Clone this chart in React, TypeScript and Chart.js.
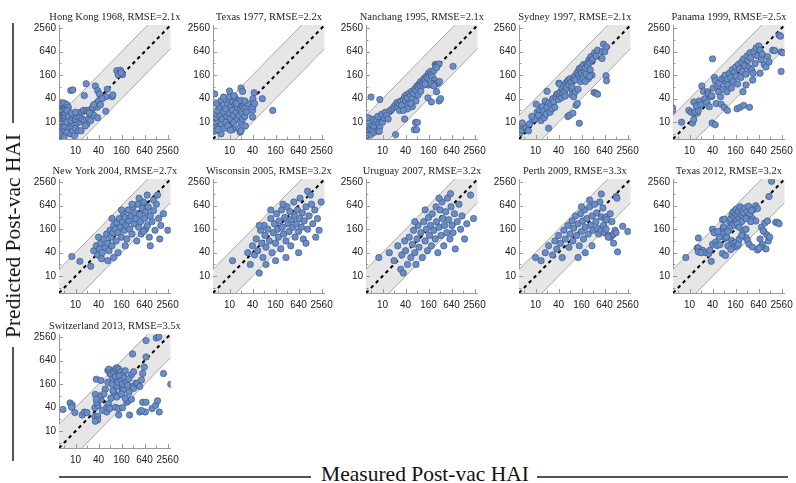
import React, { useEffect, useRef } from 'react';
import { Chart, registerables } from 'chart.js';

Chart.register(...registerables);

const panelNames = [
  'Hong Kong 1968', 'Texas 1977', 'Nanchang 1995', 'Sydney 1997', 'Panama 1999',
  'New York 2004', 'Wisconsin 2005', 'Uruguay 2007', 'Perth 2009', 'Texas 2012',
  'Switzerland 2013',
];
const rmseValues = ['2.1', '2.2', '2.1', '2.1', '2.5', '2.7', '3.2', '3.2', '3.3', '3.2', '3.5'];

const majorTicks = [10, 40, 160, 640, 2560];
const minorTicks = [5, 20, 80, 320, 1280];
const axisMin = 3.7;
const axisMax = 3100;
const bandFactor = 4;

type P = [number, number];

const hongKong1968: P[] = [
  [4.2,4.5],[4.6,5],[5,4.2],[4.2,6],[4.4,7],[5,6.5],[4.3,8],[4.7,9],[5.2,8],[4.2,10],[4.5,11],[5,10.5],[4.3,12.5],[4.8,13],[5.4,12],
  [4.2,15],[4.6,16],[5.1,15],[4.3,18],[4.7,19],[5.3,18],[4.2,21],[4.6,23],[5.2,22],[4.2,26],[4.6,27],[5.5,25],[4.3,30],[5,31],[6,28],
  [6.5,24],[6,20],[6.5,14],[6,10],[6.8,7],[6,5.5],
  [7.5,5],[8.5,6],[9.5,4.5],[8,8],[9,9],[10,7],[11,9.5],[13,10],[12,6],[7.5,11],[8.5,13],[10,12],[9,15],[11,14],[12,17],[14,18],
  [16,20],[8,17],[10,18],[13,13],[15,12],[17,11],[20,9],[22,12],[19,20],[21,19],[23,20],[25,11],[28,22],[30,15],[23,17],[18,8],[14,6],
  [7.5,65],[8.5,67],[19,97],[17,48],[33,85],[38,64],[42,53],[68,70],[62,45],[91,45],[36,31],[40,35],[37,24],[62,19],[38,13],
  [120,210],[150,215],[170,165],[130,165],[155,185],[28,24],[50,40],[45,28],[95,50],[30,28],
];

const texas1977: P[] = [
  [4.2,6],[4.6,8],[4.2,10],[5,11],[4.3,13],[5.5,15],[4.2,17],[4.8,20],[6,9],[6.5,12],[5.5,25],[4.6,30],[6,36],[7,28],[7,18],
  [7.5,7],[8,10],[8.5,14],[8,22],[9,30],[9.5,38],[10,45],[10,17],[10.5,12],[11,8],[11,25],[12,33],[12,20],[13,15],[13,10],
  [14,28],[14,42],[15,18],[16,12],[16,24],[17,7],[17,35],[18,15],[18,28],[19,20],[20,10],[21,18],[22,26],[22,12],[23,31],
  [24,22],[25,14],[26,8],[27,25],[28,18],[30,30],[12,6.5],[9,8],[6,5],[5,6.5],[15,30],[20,36],[25,35],[7,44],[13,48],
  [4.1,53],[10,63],[20,75],[22,61],[44,57],[41,40],[72,40],[135,20],[40,20],[40,13.5],[41,25],[45,30],[10.6,6.2],[19,5.5],[20,6],
];

const nanchang1995: P[] = [
  [4,4.5],[4.3,5.5],[5,4.8],[4.1,6.5],[4.6,7],[5.5,6.2],[4.2,8.5],[5,9],[6,8],[6.5,10],[4.6,11],[5.5,12],[7,11.5],[4.2,13],
  [6,5.5],[7.5,6],[8,9],[8.5,7.5],[9,12],[7.5,14],[10,10],[11,13],[9.5,16],[12,18],[13,15],[14,12],[16,20],[8.2,5.8],
  [18,22],[20,25],[22,28],[25,24],[24,32],[27,30],[30,35],[28,20],[32,27],[35,38],[38,45],[40,36],[42,50],[45,42],[48,30],
  [50,55],[55,48],[60,40],[58,62],[65,55],[70,72],[75,65],[80,85],[85,78],[90,95],[95,88],[100,110],[110,100],[120,130],
  [115,88],[130,120],[140,150],[150,140],[160,180],[170,160],[180,200],[190,170],[200,150],[220,210],[240,300],[250,280],
  [280,300],[300,310],[260,250],[230,120],[200,100],[160,90],[130,95],[250,95],[280,100],[310,110],[190,95],[220,85],
  [260,60],[75,35],[60,25],[45,22],[55,30],[85,50],[100,62],
  [5,44],[8.5,38],[22,4.8],[38,12],[73,9.8],[82,9.8],[68,6.4],[78,6.4],[154,42],[190,33],[300,35],[330,40],[700,270],[35,20],
];

const sydney1997: P[] = [
  [4,5.4],[4.4,6.3],[5.6,7],[5,7.8],[4.1,8.5],[4.5,9.5],[6.5,6],[7,9],[8.5,11.5],[9.6,12],[8,14],[10.4,29],[11,18],[12,15],
  [13,21],[14,11],[15,25],[16,19],[18,35],[22,31],[20,24],[20,62],[22,7],[17,13],[19,16],[24,18],[25,28],[27,22],[28,40],
  [30,33],[32,24],[34,45],[36,52],[38,53],[41,100],[43,94],[43,48],[40,38],[45,60],[48,42],[50,70],[52,55],[55,85],[58,62],
  [60,47],[62,100],[65,75],[70,14],[78,15],[68,110],[72,120],[75,90],[80,130],[85,105],[88,70],[90,50],[95,17],[100,130],
  [105,150],[110,120],[115,27],[125,30],[120,180],[130,200],[135,160],[140,9.4],[140,240],[145,140],[150,110],[155,220],
  [160,180],[165,260],[170,150],[175,130],[180,300],[190,200],[200,240],[210,170],[220,320],[230,280],[240,130],[250,400],
  [260,340],[270,220],[280,480],[300,380],[320,420],[340,58],[380,55],[420,52],[300,160],[350,600],[380,500],[420,700],
  [550,640],[650,640],[550,430],[600,1000],[720,850],[700,155],[720,115],[100,45],[110,60],[90,80],[130,70],[200,110],[260,150],
];

const panama1999: P[] = [
  [3.6,20],[3.6,23],[6.2,10],[9.6,20],[11,18],[13,17],[16,17],[12,9.5],[13,11.8],[13,33],[14,18.5],[17,20],[18,35],[15,26],
  [20,28],[21,85],[23,62],[25,40],[28,32],[30,60],[31,53],[33,25],[36,45],[38,48],[39,9.5],[47,8.6],[40,420],[42,75],
  [45,140],[47,115],[50,30],[55,85],[58,60],[60,100],[65,45],[67,29],[70,130],[75,70],[81,140],[81,24],[85,160],[89,105],
  [95,60],[98,125],[98,20],[100,90],[110,180],[120,140],[125,75],[130,220],[140,110],[150,190],[160,260],[165,150],[175,22],
  [180,95],[190,300],[200,230],[210,24],[220,140],[230,350],[240,200],[260,27],[260,420],[280,280],[300,170],[320,500],
  [340,380],[360,250],[370,24],[380,600],[400,450],[420,220],[460,180],[480,650],[520,320],[550,800],[600,500],[650,900],
  [700,700],[750,400],[800,550],[900,300],[1000,260],[1100,480],[1500,700],[1700,680],[2200,1700],[2400,1600],[2500,630],
  [2800,600],[2500,200],[1200,350],[300,90],[450,120],[700,180],[250,60],
];

const newYork2004: P[] = [
  [8,32],[13,24],[25,18],[30,45],[35,60],[38,35],[40,100],[42,50],[45,70],[48,28],[50,40],[55,90],[60,55],[65,120],[70,70],
  [75,45],[80,150],[85,100],[90,60],[95,130],[100,200],[110,160],[115,80],[120,240],[130,130],[140,300],[150,180],[160,100],
  [170,250],[180,400],[190,150],[200,320],[210,200],[220,90],[240,500],[250,260],[260,160],[280,350],[300,120],[320,600],
  [340,220],[360,420],[380,300],[400,80],[420,700],[450,180],[480,380],[500,250],[520,120],[560,550],[600,800],[640,300],
  [680,160],[700,450],[760,200],[800,600],[850,100],[900,350],[1000,250],[1100,480],[1200,150],[1300,700],[1500,300],
  [1700,200],[2000,400],[2600,150],[1600,90],[900,60],[1100,900],[1400,1200],[130,40],[200,60],[70,25],[100,30],[600,140],
  [460,1000],[750,1200],[300,700],[160,500],[90,300],
];

const wisconsin2005: P[] = [
  [12,25],[30,40],[35,20],[40,60],[45,35],[50,90],[55,45],[60,12],[65,150],[70,70],[75,30],[80,200],[85,110],[90,55],
  [100,160],[110,80],[120,300],[130,40],[140,130],[150,220],[160,70],[170,400],[180,160],[190,100],[200,260],[220,50],
  [230,500],[240,180],[260,120],[280,320],[300,80],[320,600],[340,220],[360,140],[380,450],[400,60],[420,280],[450,180],
  [480,800],[500,350],[520,100],[560,220],[600,500],[640,140],[680,300],[700,1000],[760,180],[800,420],[850,90],[900,260],
  [1000,600],[1100,160],[1200,350],[1300,1200],[1500,220],[1700,500],[2000,300],[2200,150],[2500,800],[1800,100],[1000,70],
  [640,40],[300,30],[160,25],[90,20],[1400,700],[1100,1500],[250,700],[120,500],[60,200],
];

const uruguay2007: P[] = [
  [8,30],[15,40],[20,25],[25,60],[30,15],[32,35],[35,12],[38,80],[40,45],[45,20],[50,100],[55,30],[60,65],[65,150],[70,40],
  [75,20],[80,90],[85,200],[90,55],[100,130],[110,30],[120,250],[130,80],[140,160],[150,45],[160,320],[170,110],[180,200],
  [190,60],[200,400],[220,150],[240,90],[250,600],[260,250],[280,40],[300,180],[320,500],[340,110],[360,800],[380,300],
  [400,60],[420,200],[450,450],[480,130],[500,1000],[540,280],[580,90],[620,600],[660,200],[700,130],[760,400],[800,50],
  [900,250],[1000,700],[1100,160],[1200,350],[1400,90],[1600,220],[2000,1200],[2400,300],[130,500],[70,250],[600,1300],[300,1000],
];

const perth2009: P[] = [
  [10,30],[14,25],[18,40],[22,60],[28,35],[32,80],[36,50],[40,110],[45,70],[50,30],[55,150],[60,90],[70,200],[75,55],
  [80,120],[90,260],[95,80],[100,170],[110,350],[120,110],[130,220],[140,60],[150,400],[160,140],[170,260],[180,90],
  [190,500],[200,180],[220,300],[240,120],[260,600],[280,200],[300,350],[320,150],[350,700],[380,250],[400,420],[420,170],
  [450,120],[480,800],[525,1280],[580,560],[525,330],[640,300],[700,330],[740,280],[525,150],[640,130],[800,110],[900,100],
  [1000,110],[1100,120],[800,100],[1200,150],[1280,130],[1100,70],[1400,42],[2600,140],[1900,190],[1280,1100],[1350,1000],
  [600,200],[700,160],[300,60],[200,40],[130,30],[900,400],[1000,250],[260,900],[160,600],
];

const texas2012: P[] = [
  [8,30],[17,95],[16,53],[17,53],[22,46],[26,40],[32,38],[34,46],[37,24],[40,160],[44,130],[40,66],[48,74],[52,61],[62,64],
  [73,130],[75,170],[78,185],[73,280],[82,290],[73,38],[87,94],[92,100],[112,250],[127,225],[134,210],[127,82],[134,68],
  [150,56],[160,72],[175,59],[190,66],[300,98],[330,82],[360,66],[440,56],[600,47],[1000,50],[1150,80],[880,140],[1050,115],
  [1250,100],[760,180],[850,145],[930,230],[1100,260],[700,90],[800,65],[720,56],[660,52],[1800,240],[2000,240],[2200,220],
  [1400,2700],[1200,1100],[540,640],[600,540],[450,500],[360,330],[440,300],[540,260],[250,140],[300,160],[17,42],[20,40],[87,34],
  [120,300],[130,380],[140,450],[150,320],[160,400],[165,520],[170,260],[180,350],[190,450],[200,300],[210,600],[220,380],
  [230,250],[240,480],[250,350],[260,420],[280,560],[300,300],[320,450],[350,620],[380,400],[400,250],[420,480],[150,200],
  [180,220],[200,180],[110,170],[100,140],[60,100],[55,140],[100,60],[120,48],[200,90],[230,110],
];

const switzerland2013: P[] = [
  [4.7,36],[7.2,53],[8.2,47],[7.9,41],[9.6,30],[15,26],[17,31],[20,30],[32,40],[38,46],[36,55],[46,66],[43,80],[33,88],
  [35,66],[35,215],[46,200],[32,24],[38,24],[38,19.5],[33,18],[50,34],[66,31],[66,41],[73,50],[79,38],[70,360],[75,390],
  [80,300],[85,280],[100,335],[110,390],[120,425],[135,390],[150,330],[180,300],[200,355],[150,140],[165,120],[180,115],
  [100,100],[120,140],[135,85],[135,26],[260,26],[110,41],[135,38],[170,40],[220,55],[240,60],[290,66],[300,140],[330,125],
  [380,170],[310,950],[570,300],[630,440],[700,800],[700,2100],[1300,2450],[1500,2600],[570,55],[700,55],[670,31],[1000,38],
  [1250,46],[1400,60],[1550,31],[2000,300],[3100,160],[480,31],[530,34],[420,170],[480,140],[530,205],[290,280],[330,335],
  [60,120],[70,180],[90,160],[95,220],[110,250],[130,180],[140,260],[160,200],[170,160],[190,230],[210,180],[230,150],
  [250,220],[55,90],[85,70],[95,110],[120,75],[160,90],[200,70],[250,100],
];

const panelData: P[][] = [
  hongKong1968, texas1977, nanchang1995, sydney1997, panama1999,
  newYork2004, wisconsin2005, uruguay2007, perth2009, texas2012,
  switzerland2013,
];

const colLefts = [59, 213, 366, 519, 673];
const rowTops = [25, 179, 334];
const plotW = 116;
const plotH = 114;
const padL = 36;
const padT = 18;
const padR = 10;
const padB = 22;

const allTicks = [...minorTicks, ...majorTicks].sort((a, b) => a - b);

function makePlugin(title: string) {
  return {
    id: 'panelDecor',
    afterDraw(chart: any) {
      const { ctx, chartArea, scales } = chart;
      const xs = scales.x;
      const ys = scales.y;
      ctx.save();
      ctx.strokeStyle = '#999';
      ctx.lineWidth = 1;
      ctx.beginPath();
      for (const v of allTicks) {
        const len = majorTicks.includes(v) ? 4 : 2.5;
        const px = Math.round(xs.getPixelForValue(v)) + 0.5;
        ctx.moveTo(px, chartArea.bottom);
        ctx.lineTo(px, chartArea.bottom - len);
        const py = Math.round(ys.getPixelForValue(v)) + 0.5;
        ctx.moveTo(chartArea.left, py);
        ctx.lineTo(chartArea.left + len, py);
      }
      ctx.stroke();
      ctx.fillStyle = '#222';
      ctx.font = '10.5px "Liberation Serif", "Times New Roman", serif';
      ctx.textAlign = 'center';
      ctx.textBaseline = 'alphabetic';
      ctx.fillText(title, (chartArea.left + chartArea.right) / 2, chartArea.top - 5);
      ctx.restore();
    },
  };
}

function Panel({ index }: { index: number }) {
  const ref = useRef<HTMLCanvasElement>(null);
  const col = index % 5;
  const row = Math.floor(index / 5);
  const title = `${panelNames[index]}, RMSE=${rmseValues[index]}x`;
  useEffect(() => {
    if (!ref.current) return;
    const pts = panelData[index].map(([x, y]) => ({ x, y }));
    const tickFont = { family: '"Liberation Sans", Arial, sans-serif', size: 10 };
    const chart = new Chart(ref.current, {
      type: 'scatter',
      data: {
        datasets: [
          {
            data: pts,
            pointRadius: 3.2,
            pointBackgroundColor: 'rgb(104,142,201)',
            pointBorderColor: 'rgb(58,78,118)',
            pointBorderWidth: 0.6,
            order: 0,
            clip: 0,
          } as any,
          {
            data: [{ x: axisMin, y: axisMin }, { x: axisMax, y: axisMax }],
            showLine: true,
            borderColor: '#000',
            borderWidth: 2,
            borderDash: [3.5, 3.5],
            pointRadius: 0,
            order: 1,
            clip: 0,
          } as any,
          {
            data: [{ x: axisMin, y: axisMin * bandFactor }, { x: axisMax, y: axisMax * bandFactor }],
            showLine: true,
            borderColor: '#aaa',
            borderWidth: 1,
            backgroundColor: '#e6e6e6',
            fill: '+1',
            pointRadius: 0,
            order: 2,
            clip: 0,
          } as any,
          {
            data: [{ x: axisMin, y: axisMin / bandFactor }, { x: axisMax, y: axisMax / bandFactor }],
            showLine: true,
            borderColor: '#aaa',
            borderWidth: 1,
            pointRadius: 0,
            fill: false,
            order: 3,
            clip: 0,
          } as any,
        ],
      },
      options: {
        animation: false,
        responsive: false,
        devicePixelRatio: 1,
        events: [],
        layout: { padding: { top: padT, right: padR, left: 0, bottom: 0 } },
        plugins: {
          legend: { display: false },
          tooltip: { enabled: false },
          filler: { drawTime: 'beforeDatasetsDraw' },
        } as any,
        scales: {
          x: {
            type: 'logarithmic',
            min: axisMin,
            max: axisMax,
            afterBuildTicks: (s: any) => { s.ticks = allTicks.map((v) => ({ value: v })); },
            afterFit: (s: any) => { s.height = padB; },
            ticks: {
              autoSkip: false,
              maxRotation: 0,
              minRotation: 0,
              padding: 6,
              color: '#222',
              font: tickFont,
              callback: (v: any) => (majorTicks.includes(Number(v)) ? String(v) : ''),
            },
            grid: { display: false, drawTicks: false },
            border: { display: true, color: '#999', width: 1 },
          },
          y: {
            type: 'logarithmic',
            min: axisMin,
            max: axisMax,
            afterBuildTicks: (s: any) => { s.ticks = allTicks.map((v) => ({ value: v })); },
            afterFit: (s: any) => { s.width = padL; },
            ticks: {
              autoSkip: false,
              padding: 3,
              color: '#222',
              font: tickFont,
              callback: (v: any) => (majorTicks.includes(Number(v)) ? String(v) : ''),
            },
            grid: { display: false, drawTicks: false },
            border: { display: true, color: '#999', width: 1 },
          },
        },
      } as any,
      plugins: [makePlugin(title)],
    });
    return () => chart.destroy();
  }, [index]);
  const w = padL + plotW + padR;
  const h = padT + plotH + padB;
  return (
    <canvas
      ref={ref}
      width={w}
      height={h}
      style={{ position: 'absolute', left: colLefts[col] - padL, top: rowTops[row] - padT, width: w, height: h }}
    />
  );
}

export default function App() {
  const serif = '"Liberation Serif", "Times New Roman", serif';
  return (
    <div style={{ position: 'fixed', left: 0, top: 0, width: 796, height: 483, background: '#fff', overflow: 'hidden' }}>
      {panelData.map((_, i) => (
        <Panel key={i} index={i} />
      ))}
      <div style={{ position: 'absolute', left: 12, top: 23, width: 1.5, height: 100, background: '#555' }} />
      <div style={{ position: 'absolute', left: 12, top: 347, width: 1.5, height: 114, background: '#555' }} />
      <div
        style={{
          position: 'absolute', left: 13, top: 236, transform: 'translate(-50%, -50%) rotate(-90deg)',
          whiteSpace: 'nowrap', fontFamily: serif, fontSize: 21.5, color: '#111', lineHeight: '24px',
        }}
      >
        Predicted Post-vac HAI
      </div>
      <div style={{ position: 'absolute', left: 59, top: 476, width: 252, height: 1.5, background: '#555' }} />
      <div style={{ position: 'absolute', left: 537, top: 476, width: 251, height: 1.5, background: '#555' }} />
      <div
        style={{
          position: 'absolute', left: 425, top: 474, transform: 'translate(-50%, -50%)',
          whiteSpace: 'nowrap', fontFamily: serif, fontSize: 21.5, color: '#111', lineHeight: '24px',
        }}
      >
        Measured Post-vac HAI
      </div>
    </div>
  );
}
